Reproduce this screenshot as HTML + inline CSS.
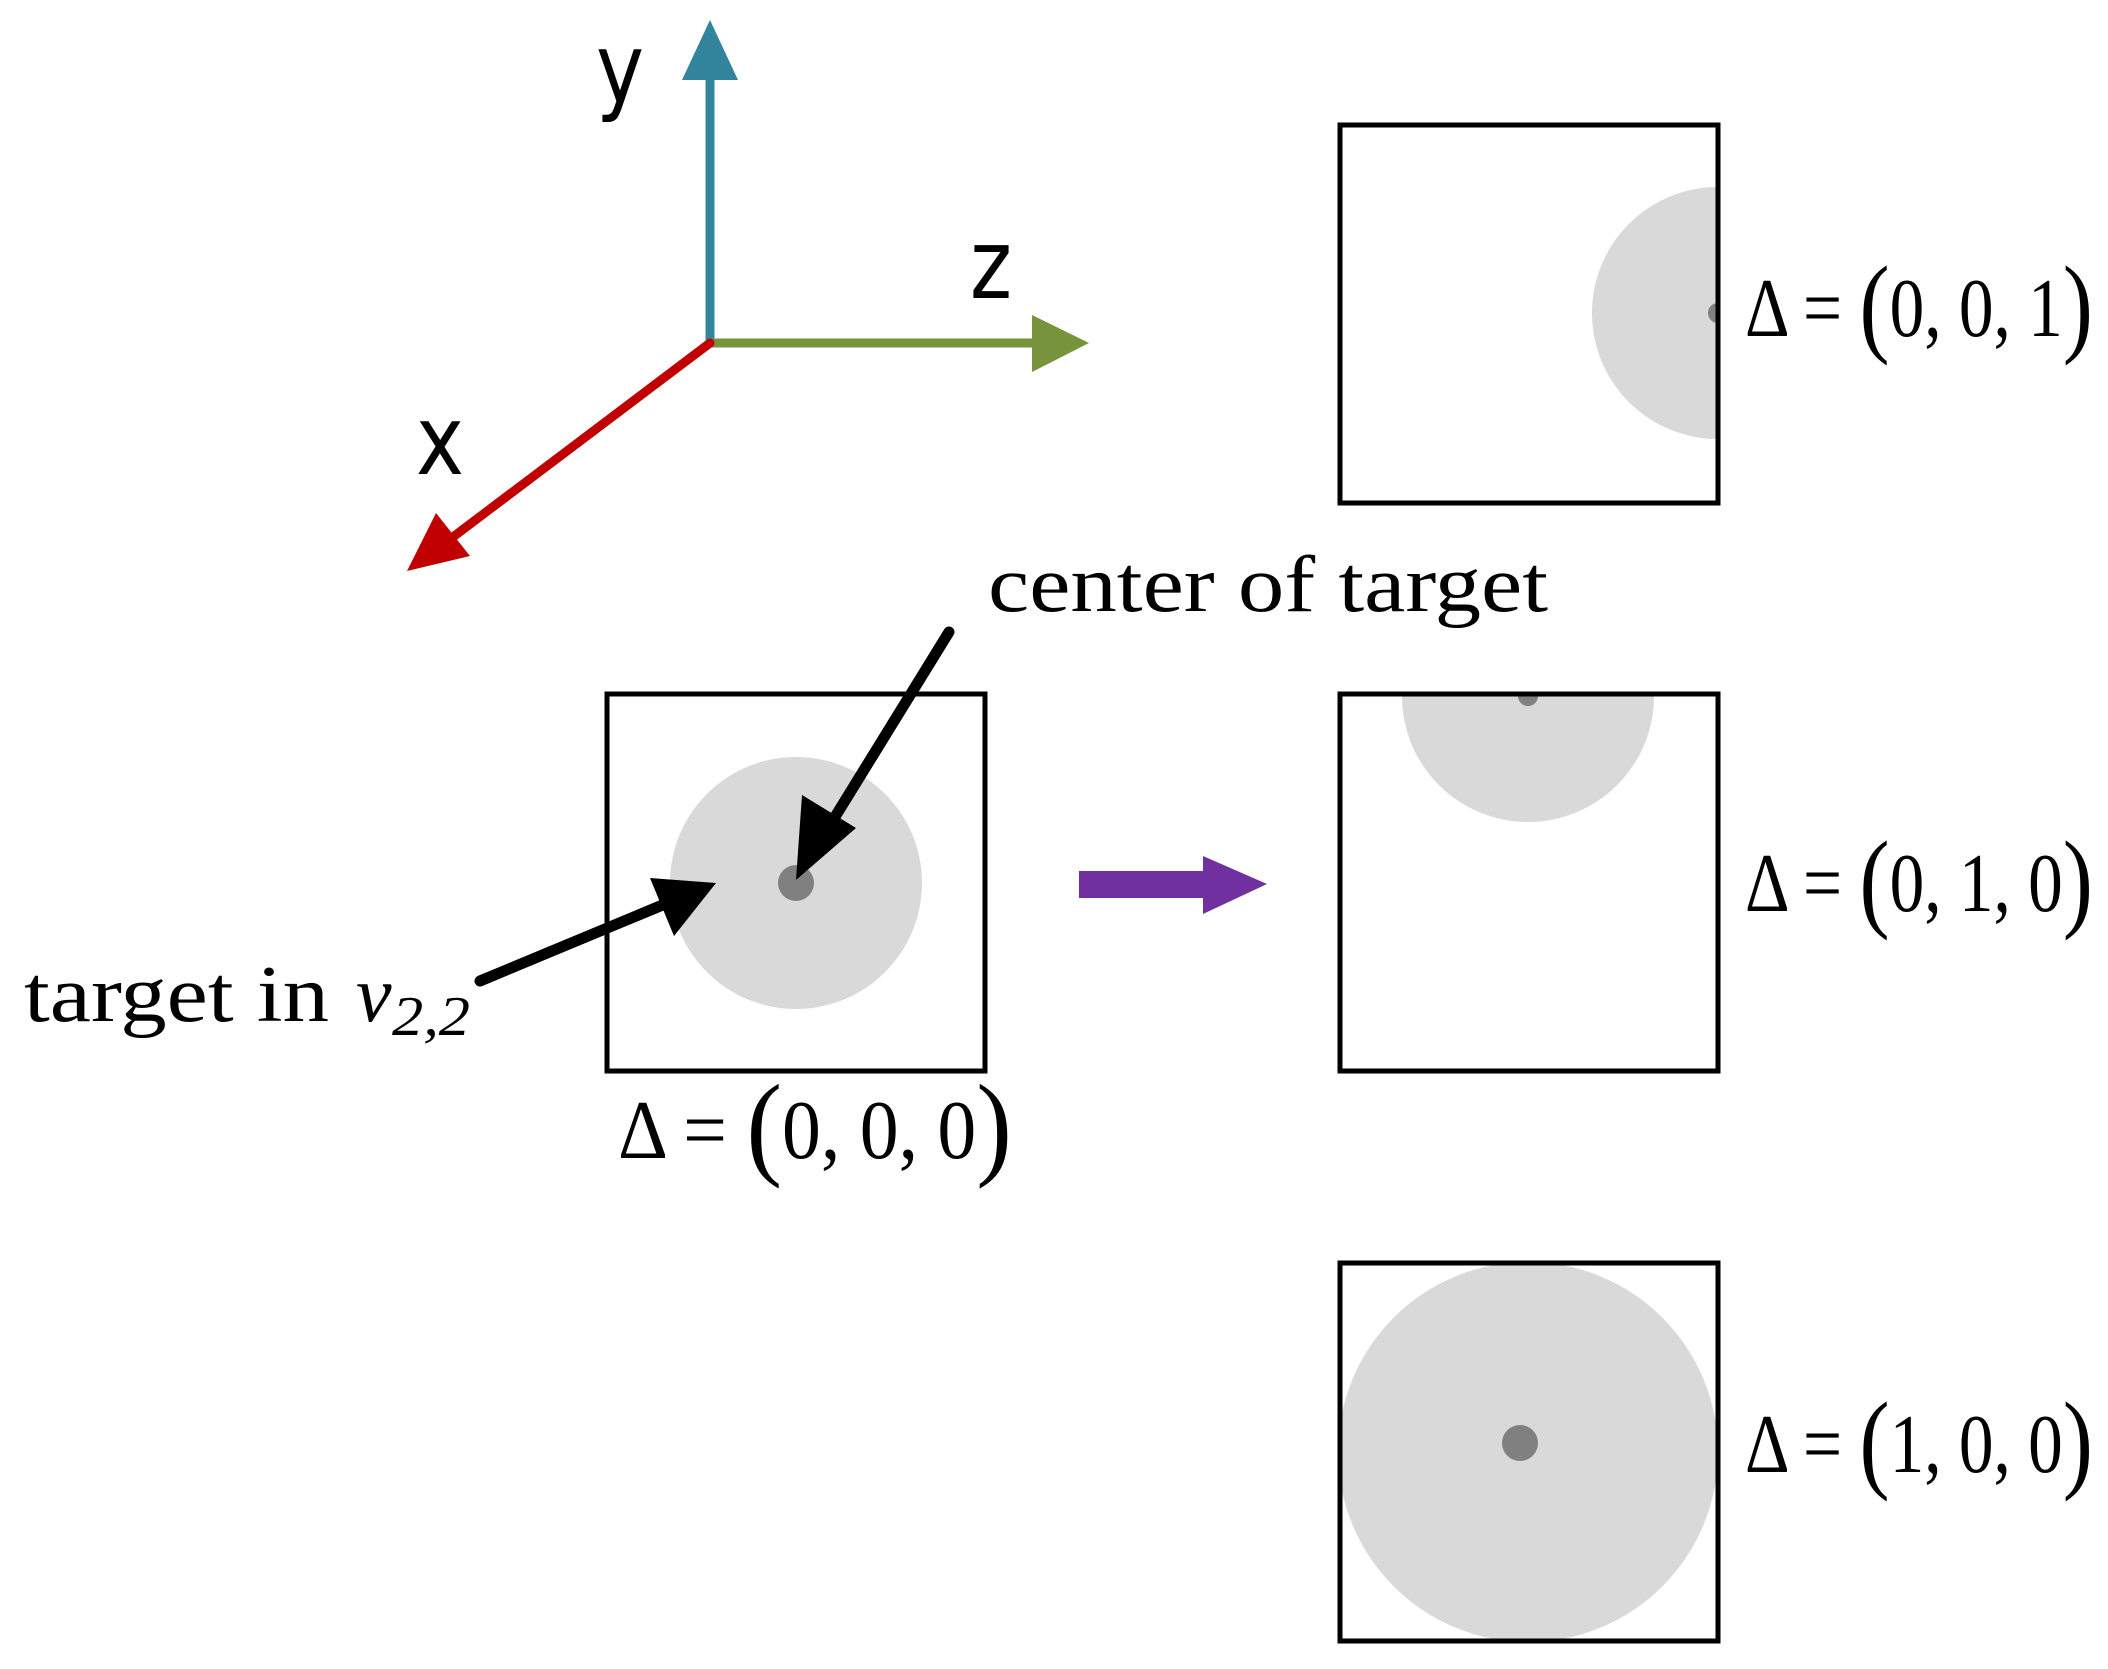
<!DOCTYPE html>
<html><head><meta charset="utf-8"><style>html,body{margin:0;padding:0;background:#fff}svg{display:block}</style></head>
<body>
<svg width="2108" height="1669" viewBox="0 0 2108 1669" xmlns="http://www.w3.org/2000/svg">
<defs>
<clipPath id="c1"><rect x="1340" y="125" width="378" height="378"/></clipPath>
<clipPath id="c2"><rect x="1340" y="694" width="378" height="377"/></clipPath>
<clipPath id="c3"><rect x="1340" y="1263" width="378" height="378"/></clipPath>
</defs>
<!-- axes -->
<line x1="710" y1="343" x2="710" y2="75" stroke="#31849b" stroke-width="9" stroke-linecap="round"/>
<polygon points="710,20 682,80 738,80" fill="#31849b"/>
<line x1="710" y1="343" x2="1040" y2="343" stroke="#77933c" stroke-width="9" stroke-linecap="round"/>
<polygon points="1089,343 1032,315 1032,372" fill="#77933c"/>
<line x1="710" y1="343" x2="445" y2="543" stroke="#c00000" stroke-width="9" stroke-linecap="round"/>
<polygon points="407,571 436,513 470,556" fill="#c00000"/>
<g font-family="'DejaVu Sans Condensed','Liberation Sans',sans-serif" font-size="96" fill="#000">
<text x="596" y="102" textLength="48" lengthAdjust="spacingAndGlyphs">y</text>
<text x="970" y="298" textLength="42" lengthAdjust="spacingAndGlyphs">z</text>
<text x="416" y="474" textLength="48" lengthAdjust="spacingAndGlyphs">x</text>
</g>
<!-- boxes -->
<g clip-path="url(#c1)"><circle cx="1718" cy="313" r="126" fill="#d9d9d9"/><circle cx="1718" cy="313" r="10" fill="#808080"/></g>
<g clip-path="url(#c2)"><circle cx="1528" cy="696" r="126" fill="#d9d9d9"/><circle cx="1528" cy="696" r="10" fill="#808080"/></g>
<g clip-path="url(#c3)"><circle cx="1528" cy="1452" r="190" fill="#d9d9d9"/><circle cx="1520" cy="1443" r="18" fill="#808080"/></g>
<circle cx="796" cy="883" r="126" fill="#d9d9d9"/>
<circle cx="796" cy="883" r="18" fill="#808080"/>
<g fill="none" stroke="#000" stroke-width="5">
<rect x="1340" y="125" width="378" height="378"/>
<rect x="1340" y="694" width="378" height="377"/>
<rect x="1340" y="1263" width="378" height="378"/>
<rect x="607" y="694" width="378" height="377"/>
</g>
<!-- black arrows -->
<line x1="949" y1="632" x2="830" y2="825" stroke="#000" stroke-width="11" stroke-linecap="round"/>
<polygon points="796,880 802,795 856,828" fill="#000"/>
<line x1="480" y1="981" x2="665" y2="904" stroke="#000" stroke-width="11" stroke-linecap="round"/>
<polygon points="716,883 650,878 674,936" fill="#000"/>
<!-- purple arrow -->
<rect x="1079" y="871" width="126" height="27" fill="#7030a0"/>
<polygon points="1203,856 1267,884 1203,914" fill="#7030a0"/>
<!-- labels -->
<g font-family="'Liberation Serif',serif" fill="#000">
<text x="988" y="611" font-size="80" textLength="560" lengthAdjust="spacingAndGlyphs">center of target</text>
<text x="24" y="1021" font-size="80" textLength="305" lengthAdjust="spacingAndGlyphs">target in</text>
<text x="356" y="1021" font-size="80" font-style="italic">v</text>
<text x="392" y="1035" font-size="56" font-style="italic" textLength="78" lengthAdjust="spacingAndGlyphs">2,2</text>

<g font-size="84">
<text x="1745" y="336" textLength="348" lengthAdjust="spacingAndGlyphs">Δ = <tspan font-size="110" dy="6">(</tspan><tspan dy="-6">0, 0, 1</tspan><tspan font-size="110" dy="6">)</tspan></text>
<text x="1745" y="911" textLength="348" lengthAdjust="spacingAndGlyphs">Δ = <tspan font-size="110" dy="6">(</tspan><tspan dy="-6">0, 1, 0</tspan><tspan font-size="110" dy="6">)</tspan></text>
<text x="1745" y="1472" textLength="348" lengthAdjust="spacingAndGlyphs">Δ = <tspan font-size="110" dy="6">(</tspan><tspan dy="-6">1, 0, 0</tspan><tspan font-size="110" dy="6">)</tspan></text>
<text x="618" y="1158" textLength="394" lengthAdjust="spacingAndGlyphs">Δ = <tspan font-size="116" dy="6">(</tspan><tspan dy="-6">0, 0, 0</tspan><tspan font-size="116" dy="6">)</tspan></text>
</g>
</g>
</svg>
</body></html>
